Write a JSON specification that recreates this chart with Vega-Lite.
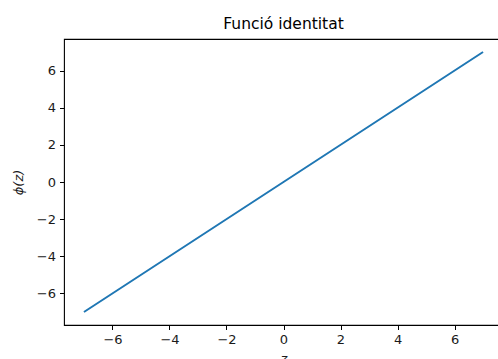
{
  "$schema": "https://vega.github.io/schema/vega-lite/v6.json",
  "autosize": "none",
  "padding": {"left": 64, "top": 39, "right": 0, "bottom": 34},
  "width": 439,
  "height": 286,
  "background": "white",
  "title": {"text": "Funció identitat", "font": "DejaVu Sans", "fontSize": 15.5, "fontWeight": "normal", "color": "#000000", "offset": 7},
  "data": {"values": [
    {"z": -7, "phi": -7},
    {"z": 0, "phi": 0},
    {"z": 7, "phi": 7}
  ]},
  "mark": {"type": "line", "color": "#1f77b4", "strokeWidth": 2},
  "encoding": {
    "x": {"field": "z", "type": "quantitative", "title": "z",
      "scale": {"domain": [-7.7, 7.7], "nice": false, "zero": false},
      "axis": {"values": [-6, -4, -2, 0, 2, 4, 6], "titleFontStyle": "italic", "titlePadding": 6}},
    "y": {"field": "phi", "type": "quantitative", "title": "ϕ(z)",
      "scale": {"domain": [-7.7, 7.7], "nice": false, "zero": false},
      "axis": {"values": [-6, -4, -2, 0, 2, 4, 6], "titleFontStyle": "italic", "titlePadding": 11}}
  },
  "config": {
    "view": {"stroke": "#000000", "strokeWidth": 1.1},
    "axis": {
      "grid": false,
      "domain": false,
      "ticks": true,
      "tickColor": "#000000",
      "tickSize": 4.5,
      "tickWidth": 1,
      "labelFont": "DejaVu Sans",
      "labelFontSize": 13,
      "labelColor": "#1a1a1a",
      "labelPadding": 4,
      "titleFont": "DejaVu Sans",
      "titleFontSize": 13,
      "titleFontWeight": "normal",
      "titleColor": "#1a1a1a"
    }
  }
}
